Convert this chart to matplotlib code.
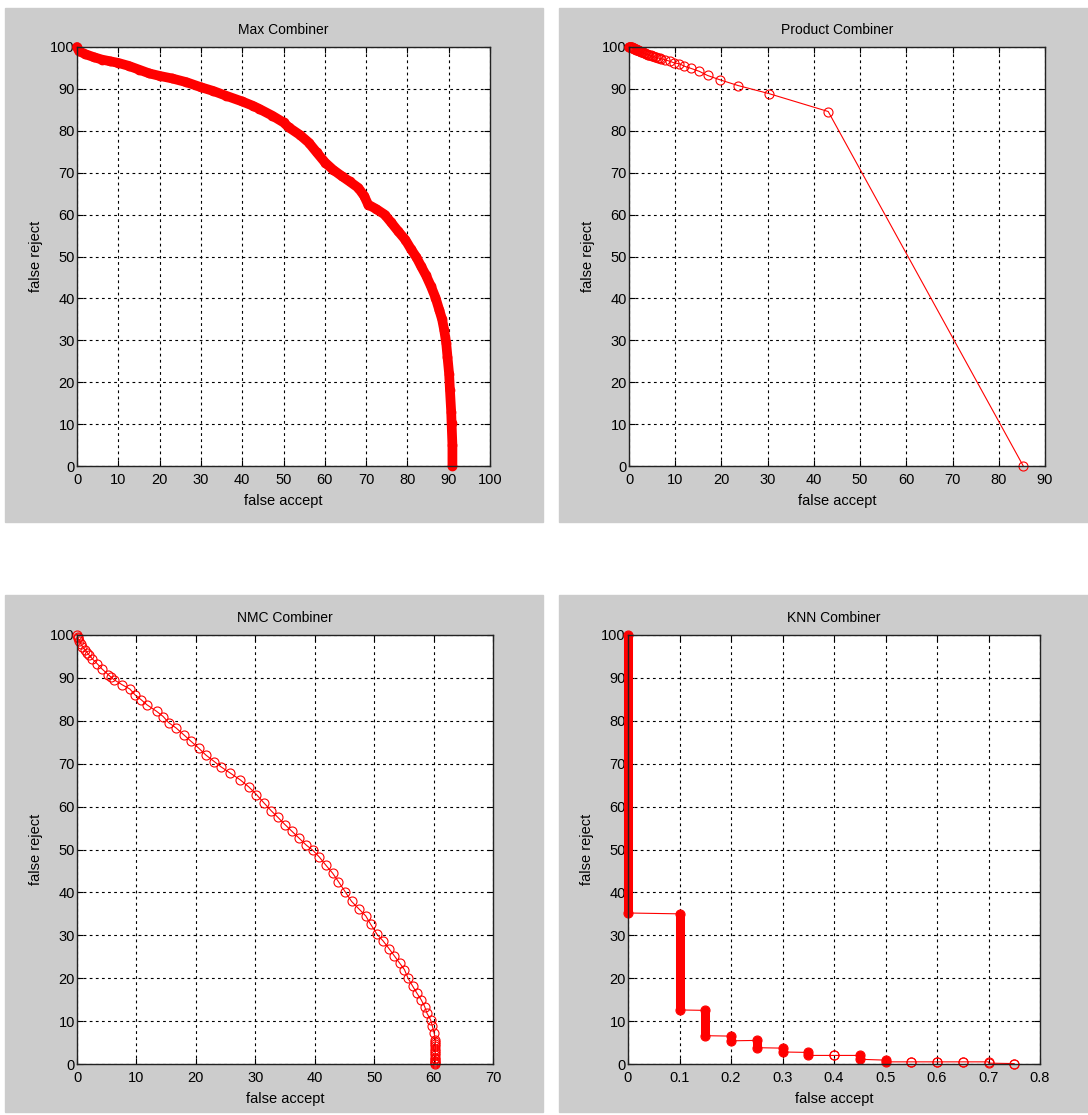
import matplotlib
matplotlib.use("Agg")
import matplotlib.pyplot as plt
from matplotlib import font_manager
from matplotlib.patches import Rectangle

# Max combiner curve
max_fa = [0, 0.5, 2, 4, 6, 8, 10, 12.5, 15, 17.5, 20, 23, 26.5, 30, 33, 36, 40, 42.5, 44,
          47.3, 50, 51.3, 54, 56.1, 58, 60.1, 62, 64.1, 66, 68.1, 69.5, 70.5, 72.5, 74.5,
          76, 77.7, 79.5, 80.9, 82.2, 83.3, 84.5, 85.7, 86.8, 87.7, 88.4, 88.9, 89.4, 89.7,
          90.1, 90.3, 90.6, 90.7, 90.9, 90.9]
max_fr = [100, 99.0, 98.3, 97.6, 97.0, 96.6, 96.2, 95.5, 94.6, 93.7, 93.1, 92.5, 91.6, 90.4,
          89.5, 88.4, 87.0, 86.0, 85.3, 83.6, 82.0, 80.8, 79.0, 77.2, 74.9, 72.4, 70.7, 69.2,
          67.9, 66.4, 64.5, 62.4, 61.3, 60.0, 58.2, 56.1, 54.0, 51.7, 49.8, 47.7, 45.5, 42.9,
          40.2, 37.3, 35.0, 32.5, 29.3, 26.1, 22.0, 18.2, 13.0, 10.2, 5.0, 0.0]

# Product combiner
prod_fa = [0, 0.1, 0.2, 0.3, 0.4, 0.5, 0.6, 0.7, 0.8, 0.9, 1.0, 1.15, 1.3, 1.45, 1.6, 1.75,
           1.9, 2.05, 2.2, 2.4, 2.6, 2.8, 3.0, 3.2, 3.4, 3.65, 3.9, 4.15, 4.4, 4.7, 5.0,
           5.3, 5.6, 5.9, 6.2, 6.6, 7.0, 7.7, 8.8, 9.8, 10.9, 12.0, 13.4, 15.2, 17.0, 19.6,
           23.6, 30.2, 43.1, 85.3]
prod_fr = [100, 100, 100, 99.9, 99.9, 99.9, 99.9, 99.8, 99.8, 99.7, 99.7, 99.6, 99.6, 99.5,
           99.4, 99.3, 99.3, 99.2, 99.1, 99.0, 98.9, 98.8, 98.7, 98.6, 98.5, 98.4, 98.3, 98.2,
           98.1, 98.0, 97.9, 97.8, 97.6, 97.5, 97.4, 97.3, 97.2, 97.0, 96.6, 96.2, 96.0, 95.4,
           94.9, 94.2, 93.2, 92.2, 90.8, 88.9, 84.6, 0]

# NMC combiner
nmc_fa = [0, 0.1, 0.2, 0.4, 0.6, 0.9, 1.3, 1.7, 2.0, 2.6, 3.4, 4.2, 5.3, 5.8, 6.2, 7.6, 8.9,
          9.8, 10.8, 11.8, 13.4, 14.5, 15.4, 16.7, 18.0, 19.2, 20.5, 21.7, 23.1, 24.2, 25.7,
          27.5, 28.9, 30.2, 31.5, 32.7, 33.8, 35.0, 36.2, 37.4, 38.6, 39.7, 40.8, 41.9, 43.0,
          44.0, 45.1, 46.2, 47.4, 48.6, 49.4, 50.5, 51.5, 52.5, 53.4, 54.3, 55.1, 55.7, 56.5,
          57.2, 57.9, 58.5, 58.9, 59.5, 59.8, 60.1, 60.3, 60.3, 60.3, 60.3, 60.3, 60.3, 60.3,
          60.3, 60.3, 60.3, 60.3, 60.3, 60.3, 60.3]
nmc_fr = [100, 99.6, 99.2, 98.6, 98.0, 97.3, 96.6, 95.9, 95.4, 94.4, 93.3, 92.1, 90.7, 90.1,
          89.6, 88.4, 87.4, 86.0, 84.9, 83.7, 82.2, 81.0, 79.6, 78.3, 76.7, 75.2, 73.6, 72.0,
          70.5, 69.3, 67.9, 66.2, 64.6, 62.8, 60.8, 59.0, 57.5, 55.8, 54.2, 52.6, 51.0, 49.8,
          48.2, 46.3, 44.5, 42.5, 40.2, 37.9, 36.2, 34.5, 32.6, 30.2, 28.7, 26.9, 25.2, 23.5,
          22.0, 20.0, 18.1, 16.5, 15.0, 13.4, 11.8, 10.3, 8.8, 7.2, 5.7, 5.2, 4.6, 4.1, 3.5,
          3.0, 2.5, 2.0, 1.5, 1.1, 0.7, 0.4, 0.2, 0.0]

# KNN combiner: steps at each false accept value (top and bottom of each column)
knn_fa = [0, 0.1, 0.15, 0.2, 0.25, 0.3, 0.35, 0.4, 0.45, 0.5, 0.55, 0.6, 0.65, 0.7, 0.75]
knn_top = [100, 35.0, 12.5, 6.5, 5.5, 3.7, 2.7, 2.0, 2.0, 0.9, 0.5, 0.5, 0.5, 0.5, 0.1]
knn_bot = [35.2, 12.6, 6.6, 5.4, 3.8, 2.8, 2.0, 2.0, 1.1, 0.5, 0.5, 0.5, 0.5, 0.2, 0.0]

names = {f.name for f in font_manager.fontManager.ttflist}
fam = 'Liberation Sans Narrow' if 'Liberation Sans Narrow' in names else 'Liberation Sans'
plt.rcParams['font.family'] = fam
plt.rcParams['font.size'] = 10

W, H = 1088, 1115
fig = plt.figure(figsize=(W / 100, H / 100), dpi=100)

GRAY = '#cccccc'
for (x0, y0, x1, y1) in [(5, 8, 543, 522), (559, 8, 1088, 522),
                         (5, 595, 543, 1112), (559, 595, 1088, 1112)]:
    fig.patches.append(Rectangle((x0 / W, 1 - y1 / H), (x1 - x0) / W, (y1 - y0) / H,
                                 transform=fig.transFigure, color=GRAY, zorder=-5))


def make_ax(l, t, r, b, title, xmax, xstep):
    ax = fig.add_axes([l / W, 1 - b / H, (r - l) / W, (b - t) / H])
    ax.set_xlim(0, xmax)
    ax.set_ylim(0, 100)
    n = int(round(xmax / xstep))
    xt = [round(i * xstep, 2) for i in range(n + 1)]
    ax.set_xticks(xt)
    ax.set_xticklabels([('%g' % v) for v in xt])
    ax.set_yticks(range(0, 101, 10))
    ax.grid(True, color='black', linestyle=(0, (2.5, 3)), linewidth=0.8)
    ax.tick_params(direction='in', top=True, right=True, length=4, width=0.8,
                   labelsize=10.5, pad=5)
    ax.tick_params(axis='y', pad=1.5)
    for s in ax.spines.values():
        s.set_linewidth(1.0)
        s.set_color('#222222')
    ax.set_title(title, fontsize=10, pad=9)
    ax.set_xlabel('false accept', fontsize=10.5, labelpad=5)
    ax.set_ylabel('false reject', fontsize=10.5, labelpad=5)
    ax.set_axisbelow(True)
    return ax


ax1 = make_ax(77, 47, 490, 466, 'Max Combiner', 100, 10)
ax1.plot(max_fa, max_fr, color='red', lw=7, solid_capstyle='round',
         solid_joinstyle='round', clip_on=False)
ax1.plot(max_fa, max_fr, color='red', marker='o', ms=6, mfc='none', lw=0.5, clip_on=False)

ax2 = make_ax(629, 47, 1045, 466, 'Product Combiner', 90, 10)
ax2.plot(prod_fa, prod_fr, color='red', marker='o', ms=6.5, mfc='none', lw=0.8,
         mew=0.8, clip_on=False)

ax3 = make_ax(77, 635, 493, 1064, 'NMC Combiner', 70, 10)
ax3.plot(nmc_fa, nmc_fr, color='red', marker='o', ms=6.5, mfc='none', lw=0.8,
         mew=0.8, clip_on=False)

ax4 = make_ax(628, 635, 1040, 1064, 'KNN Combiner', 0.8, 0.1)
path_x, path_y = [], []
for x, t, b in zip(knn_fa, knn_top, knn_bot):
    path_x += [x, x]
    path_y += [t, b]
    if t - b > 0.3:
        ax4.plot([x, x], [t, b], color='red', lw=6.5, solid_capstyle='round', clip_on=False)
ax4.plot(path_x, path_y, color='red', marker='o', ms=6.5, mfc='none', lw=0.8,
         mew=0.8, clip_on=False)

fig.savefig('out.png', dpi=100, facecolor='white')
